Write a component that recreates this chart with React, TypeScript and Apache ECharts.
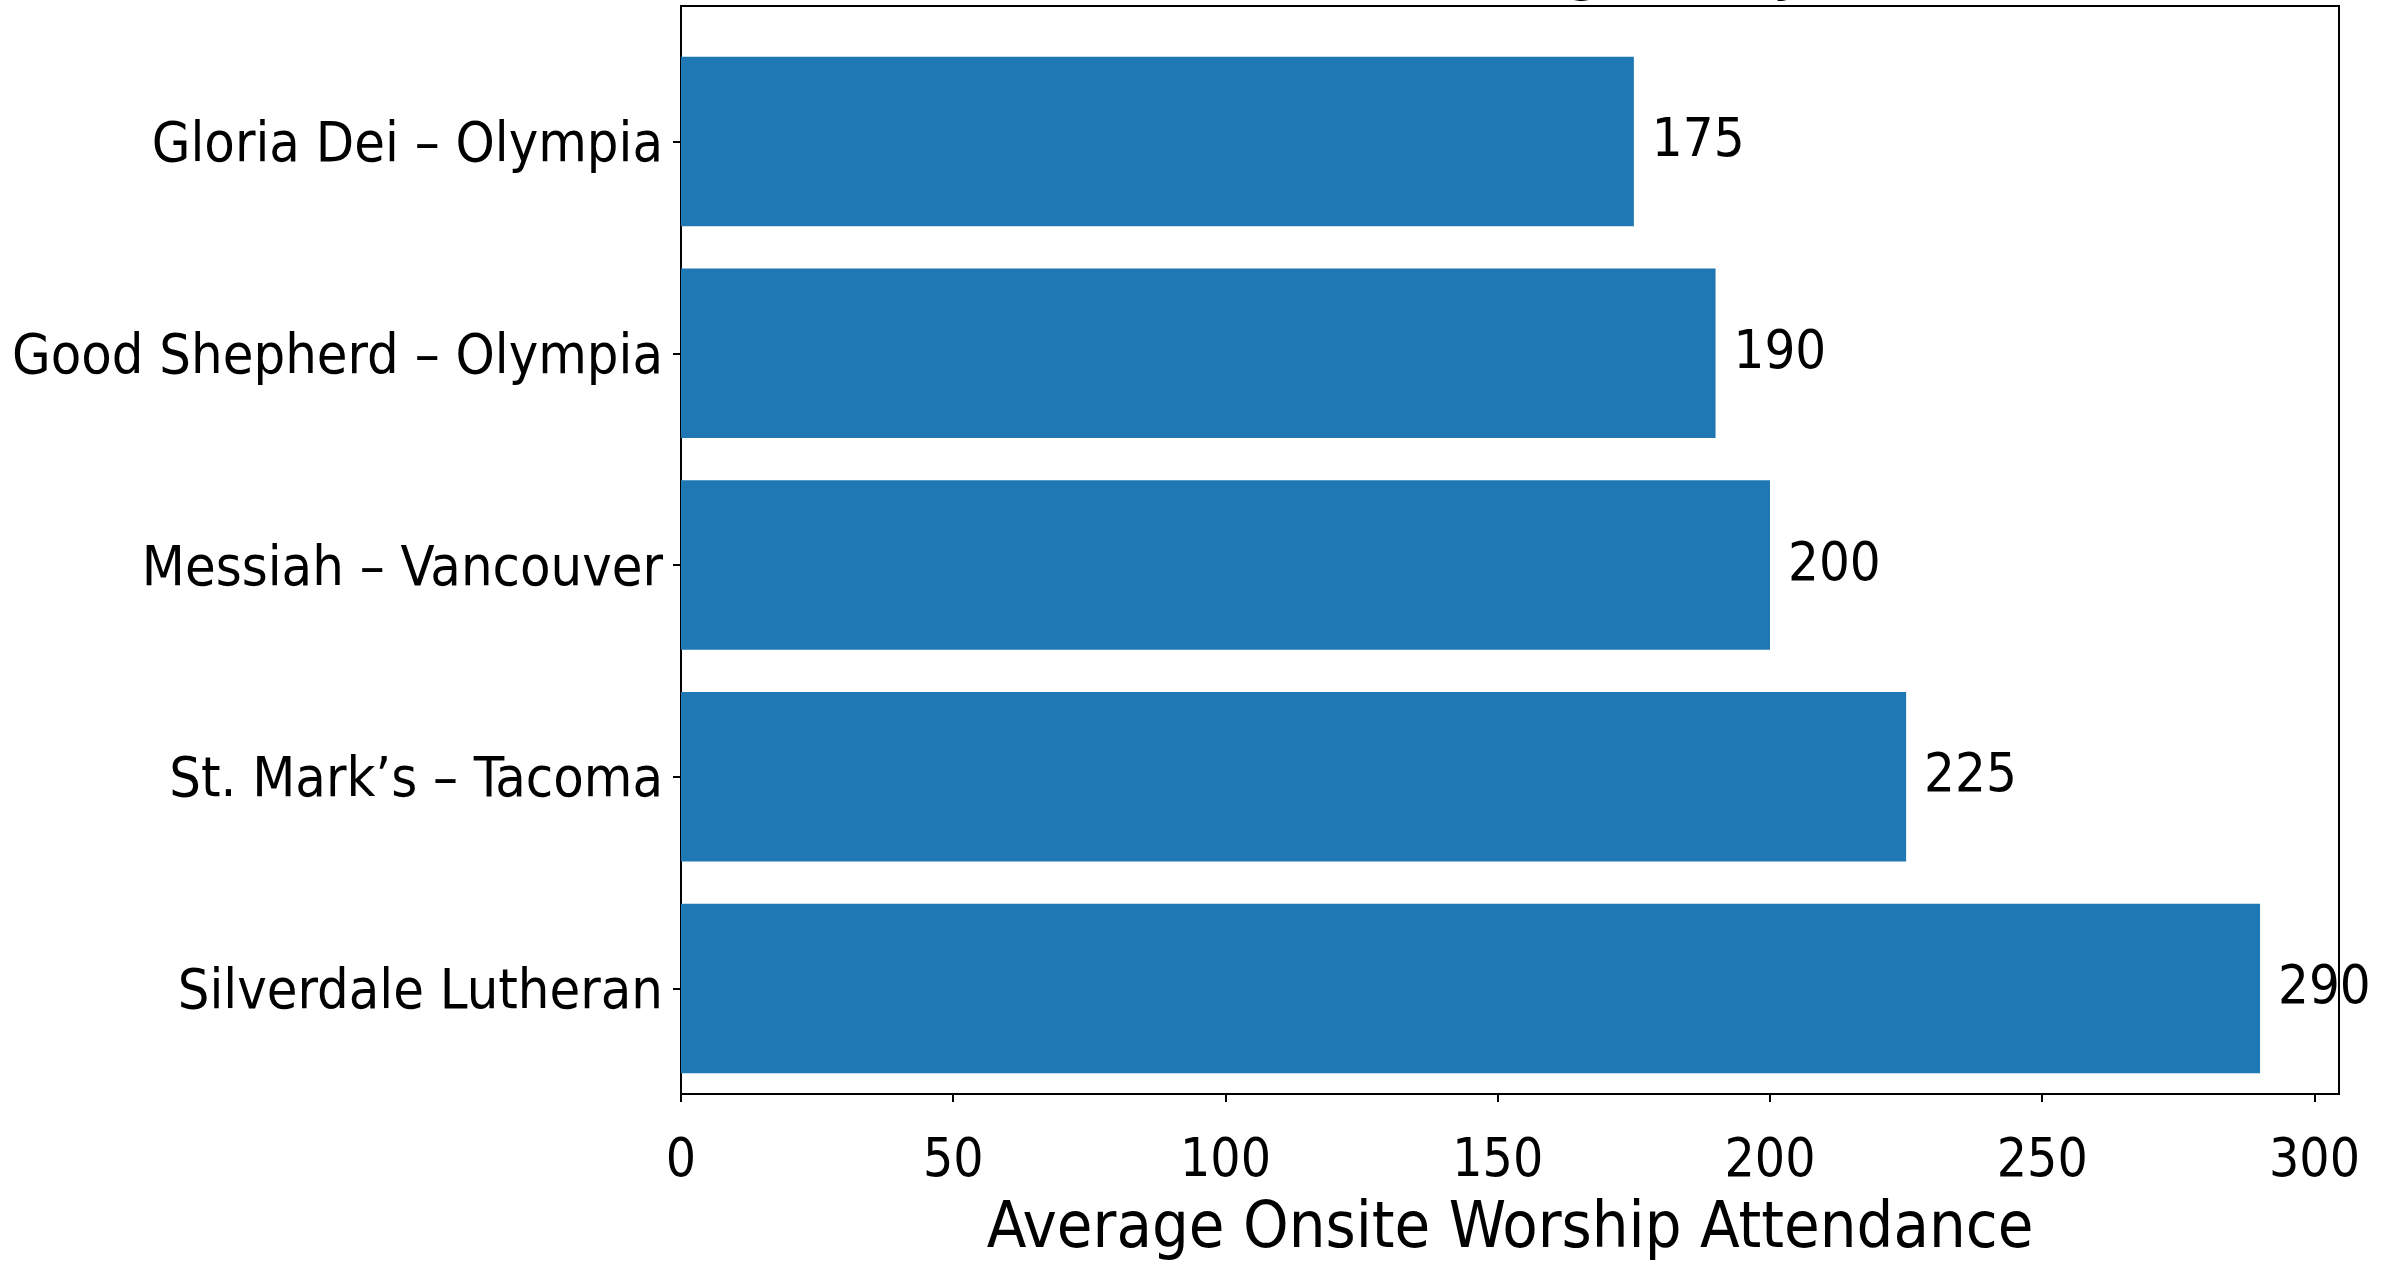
import React, { useEffect, useRef } from "react";
import * as echarts from "echarts";

const categories = [
  "Gloria Dei – Olympia",
  "Good Shepherd – Olympia",
  "Messiah – Vancouver",
  "St. Mark’s – Tacoma",
  "Silverdale Lutheran",
];
const attendance = [175, 190, 200, 225, 290];
const xTicks = [0, 50, 100, 150, 200, 250, 300];
const xMax = 304.5;
const xTitle = "Average Onsite Worship Attendance";
const chartTitle = "Southwestern Washington Synod (2023)";

const FONT = "'DejaVu Sans Condensed', 'DejaVu Sans', sans-serif";

export default function App() {
  const ref = useRef<HTMLDivElement>(null);
  useEffect(() => {
    if (!ref.current) return;
    const chart = echarts.init(ref.current, null, { renderer: "svg" });
    const W = 2389;
    const H = 1262;
    const left = 681;
    const right = W - 2339;
    const top = 6;
    const bottom = H - 1124;
    const unit = (1124 - 6) / 5.28;
    const catTop = top + 0.14 * unit;
    const catBottom = bottom + 0.14 * unit;
    chart.setOption({
      animation: false,
      backgroundColor: "#ffffff",
      textStyle: { fontFamily: FONT },
      graphic: [
        {
          type: "text",
          x: (left + 2339) / 2 + 6,
          y: -75,
          style: {
            text: chartTitle,
            fontSize: 72,
            fontFamily: FONT,
            fill: "#000",
            align: "center",
            verticalAlign: "top",
          },
          z: 10,
        },
      ],
      grid: [
        {
          left,
          right,
          top,
          bottom,
          show: true,
          borderColor: "#000",
          borderWidth: 2,
          backgroundColor: "transparent",
        },
        { left, right, top: catTop, bottom: catBottom, show: false },
      ],
      xAxis: [
        {
          type: "value",
          gridIndex: 0,
          min: 0,
          max: xMax,
          interval: 50,
          splitLine: { show: false },
          axisLine: { show: true, lineStyle: { color: "#000", width: 2 } },
          axisTick: {
            show: true,
            length: 8,
            inside: false,
            customValues: xTicks,
            lineStyle: { color: "#000", width: 2 },
          },
          axisLabel: {
            customValues: xTicks,
            fontSize: 53,
            color: "#000",
            fontFamily: FONT,
            margin: 37,
          },
          name: xTitle,
          nameLocation: "middle",
          nameGap: 98,
          nameTextStyle: { fontSize: 64.5, color: "#000", fontFamily: FONT },
        },
        {
          type: "value",
          gridIndex: 1,
          min: 0,
          max: xMax,
          show: false,
        },
      ],
      yAxis: [
        { type: "value", gridIndex: 0, show: false, min: 0, max: 1 },
        {
          type: "category",
          gridIndex: 1,
          inverse: true,
          data: categories,
          axisLine: { show: false },
          axisTick: {
            show: true,
            alignWithLabel: true,
            length: 8,
            lineStyle: { color: "#000", width: 2 },
          },
          axisLabel: {
            fontSize: 55.5,
            color: "#000",
            fontFamily: FONT,
            margin: 18,
          },
          splitLine: { show: false },
        },
      ],
      series: [
        {
          type: "bar",
          xAxisIndex: 1,
          yAxisIndex: 1,
          data: attendance,
          barWidth: "80%",
          itemStyle: { color: "#1f77b4" },
          label: {
            show: true,
            position: "right",
            distance: 18,
            offset: [0, -4],
            fontSize: 54,
            color: "#000",
            fontFamily: FONT,
          },
        },
      ],
    });
    return () => chart.dispose();
  }, []);
  return (
    <div
      ref={ref}
      style={{ position: "fixed", left: 0, top: 0, width: 2389, height: 1262 }}
    />
  );
}
